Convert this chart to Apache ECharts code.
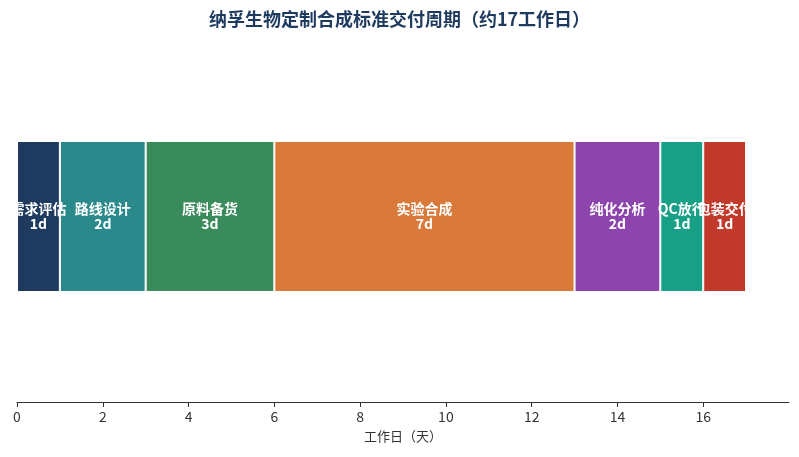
<!DOCTYPE html>
<html>
<head>
<meta charset="utf-8">
<script src="https://cdn.jsdelivr.net/npm/echarts@6/dist/echarts.min.js"></script>
<style>
  html, body { margin: 0; padding: 0; background: #fff; }
  #chart-container { width: 799px; height: 457px; }
</style>
</head>
<body>
<div id="chart-container"></div>
<script>
// stages of the delivery cycle
const stages = ['需求评估', '路线设计', '原料备货', '实验合成', '纯化分析', 'QC放行', '包装交付'];
const days = [1, 2, 3, 7, 2, 1, 1];
const colors = ['#1e3a5f', '#2a8a8b', '#3a8b5b', '#d97a3b', '#8e44ad', '#17a085', '#c0392b'];
const xTicks = [0, 2, 4, 6, 8, 10, 12, 14, 16];

const FONT = '"Noto Sans CJK SC", "Noto Sans", sans-serif';

const chartContainer = document.getElementById('chart-container');
const myChart = echarts.init(chartContainer, null, { renderer: 'canvas' });

const series = stages.map((name, i) => ({
  name: name,
  type: 'bar',
  stack: 'total',
  barWidth: 151,
  data: [days[i]],
  itemStyle: {
    color: colors[i],
    borderColor: '#fff',
    borderWidth: 1
  },
  label: {
    show: true,
    position: 'inside',
    color: '#fff',
    fontWeight: 'bold',
    fontSize: 14,
    lineHeight: 15,
    fontFamily: FONT,
    formatter: () => name + '\n' + days[i] + 'd'
  }
}));

let option = {
  textStyle: { fontFamily: FONT },
  title: {
    text: '纳孚生物定制合成标准交付周期（约17工作日）',
    left: 'center',
    top: 5,
    textStyle: {
      fontSize: 18,
      fontWeight: 'bold',
      color: '#1e3a5f',
      fontFamily: FONT
    }
  },
  grid: {
    left: 17,
    right: 10,
    top: 31,
    bottom: 55
  },
  xAxis: {
    type: 'value',
    min: 0,
    max: 18,
    interval: 2,
    name: '工作日（天）',
    nameLocation: 'middle',
    nameGap: 28,
    nameTextStyle: { fontSize: 13, color: '#333', fontFamily: FONT },
    axisLine: { show: true, lineStyle: { color: '#333' } },
    axisTick: { show: true, customValues: xTicks, lineStyle: { color: '#333' } },
    axisLabel: {
      fontSize: 14,
      color: '#333',
      fontFamily: FONT,
      customValues: xTicks
    },
    splitLine: { show: false }
  },
  yAxis: {
    type: 'category',
    data: ['周期'],
    show: false
  },
  series: series
};

myChart.setOption(option);
window.addEventListener('resize', myChart.resize);
</script>
</body>
</html>
